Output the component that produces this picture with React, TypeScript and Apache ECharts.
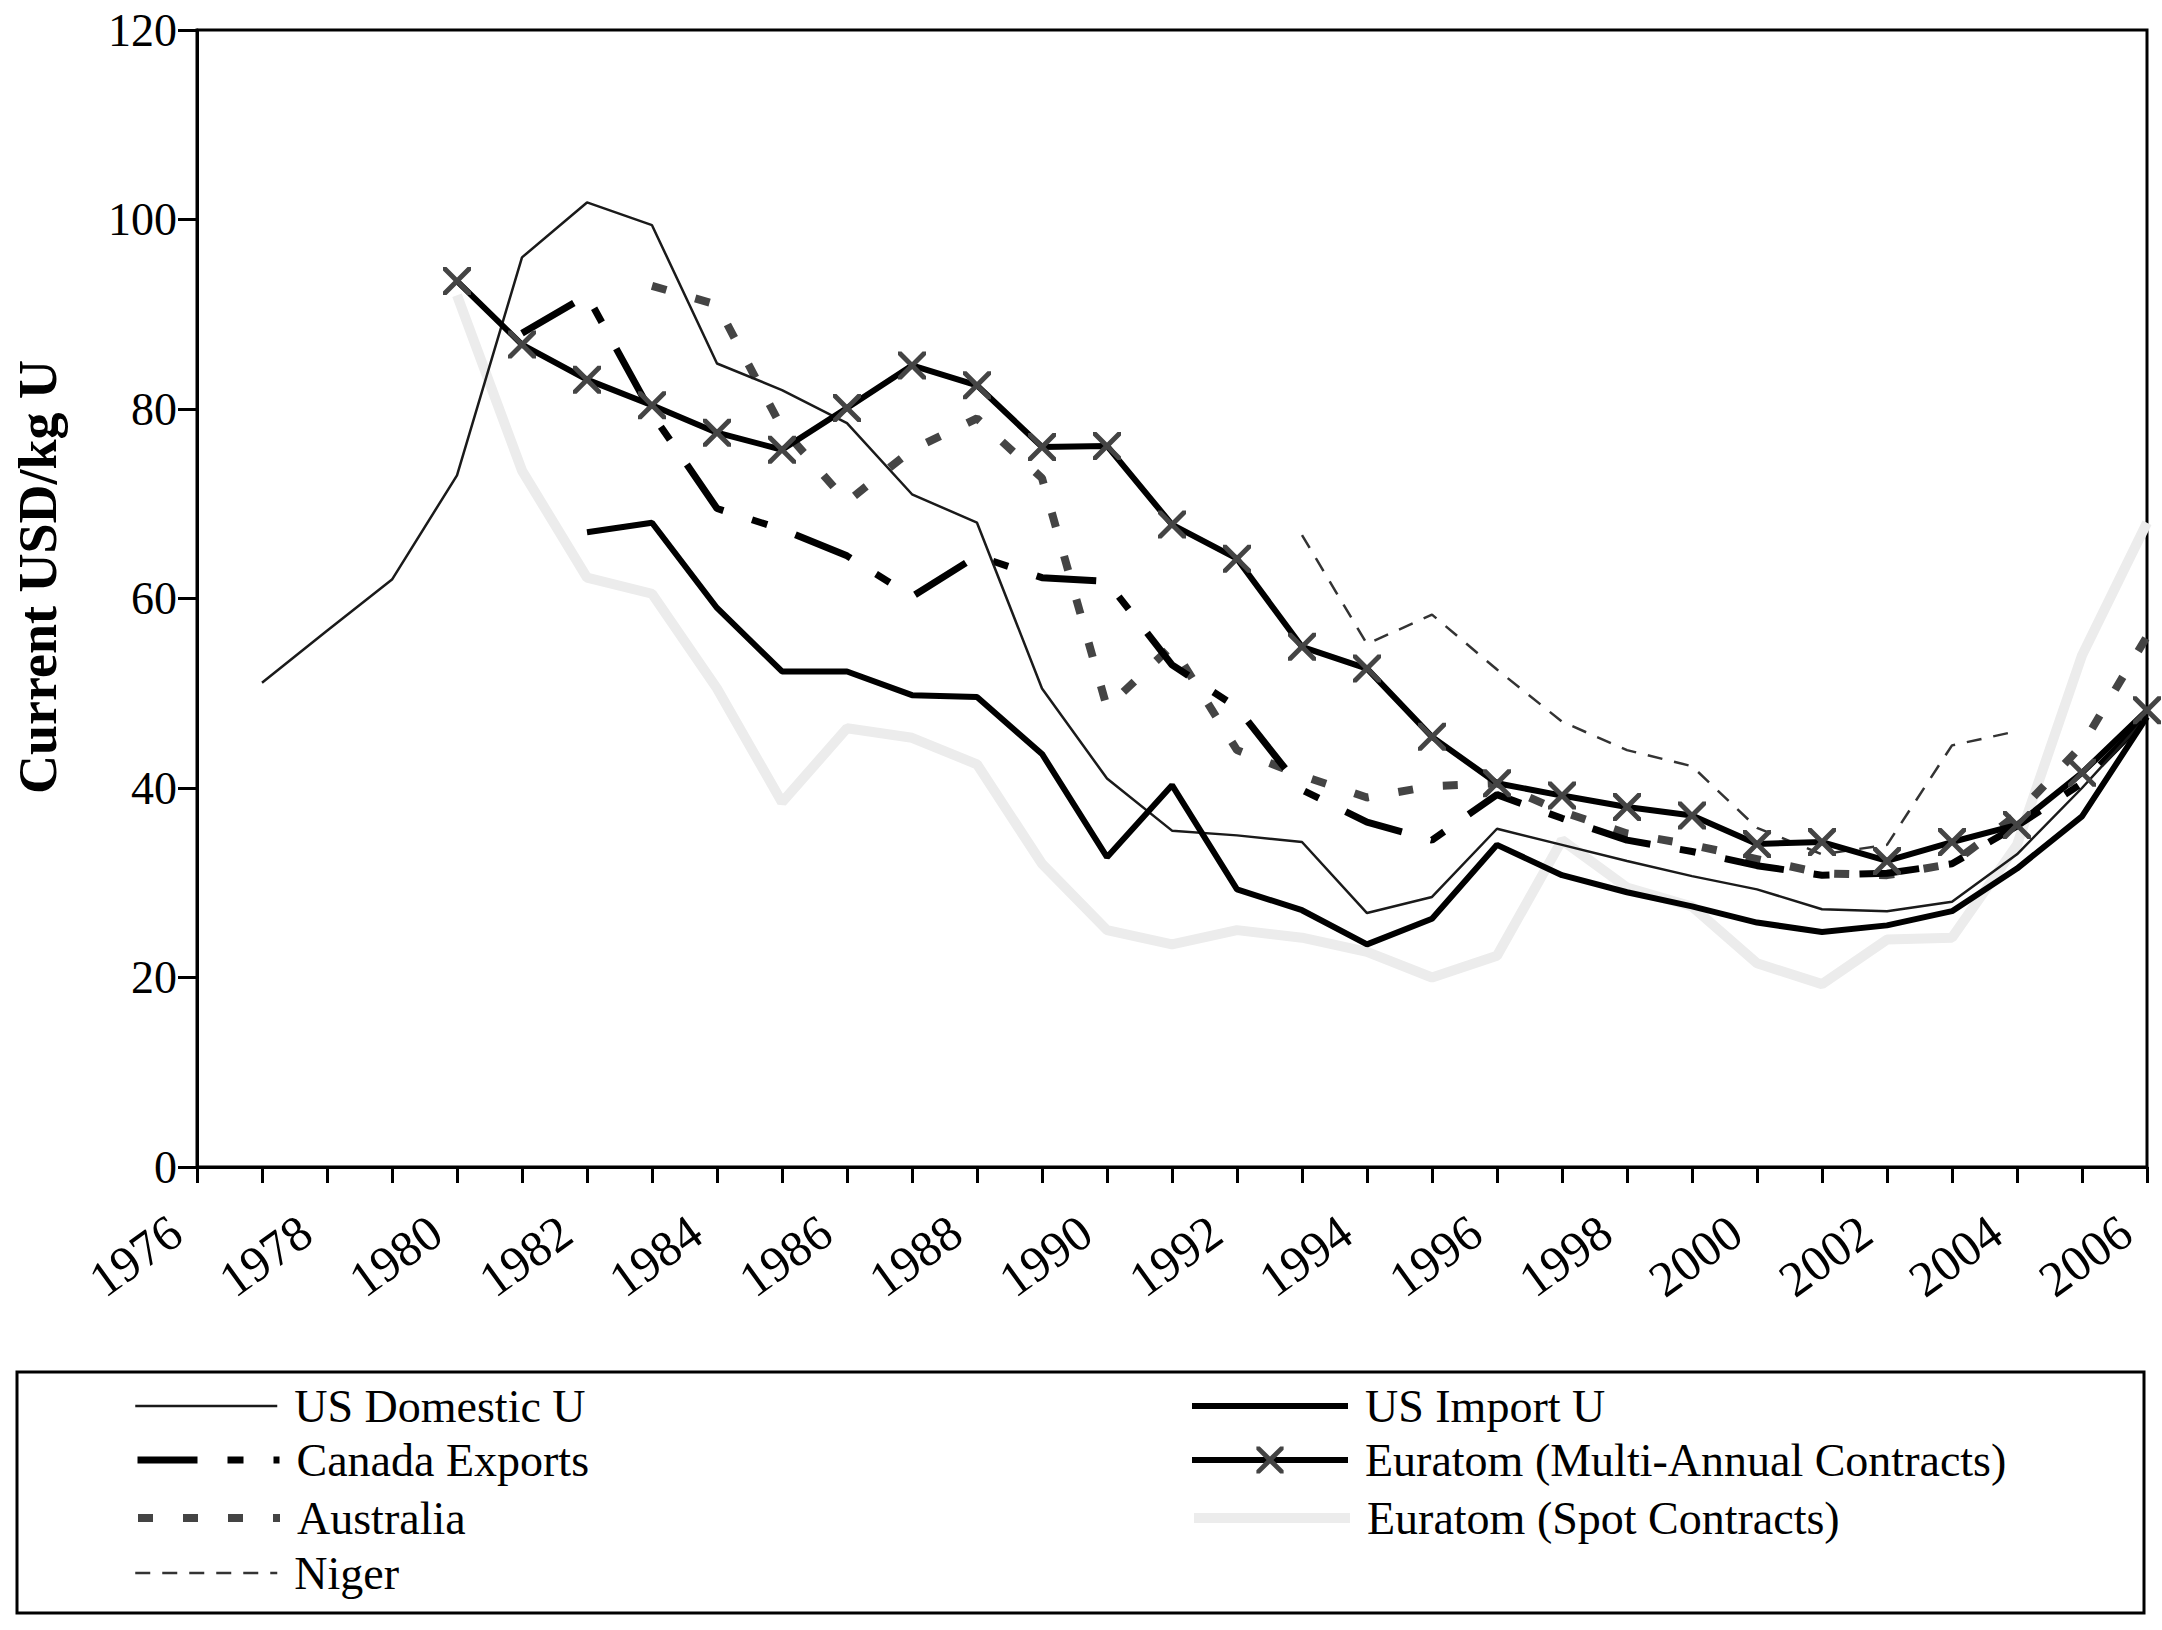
import React, { useEffect, useRef } from "react";
import * as echarts from "echarts";

const FONT = '"Liberation Serif", "DejaVu Serif", serif';

const years = [1976, 1977, 1978, 1979, 1980, 1981, 1982, 1983, 1984, 1985, 1986, 1987, 1988, 1989, 1990, 1991, 1992, 1993, 1994, 1995, 1996, 1997, 1998, 1999, 2000, 2001, 2002, 2003, 2004, 2005, 2006];

const usDomestic = [null, 51.1, 56.6, 62, 73, 96, 101.8, 99.4, 84.8, 82, 78.5, 71, 68, 50.5, 41, 35.5, 35, 34.3, 26.8, 28.5, 35.7, 34, 32.3, 30.7, 29.3, 27.2, 27, 28, 33, 40, 47.5];
const usImport = [null, null, null, null, null, null, 67, 68, 59, 52.3, 52.3, 49.8, 49.6, 43.6, 32.7, 40.3, 29.3, 27.1, 23.5, 26.2, 34, 30.8, 29, 27.5, 25.8, 24.8, 25.5, 27, 31.5, 37, 47.5];
const canadaExports = [null, null, null, null, null, 88, 92, 79.5, 69.5, 67.3, 64.5, 60.2, 64.5, 62.2, 61.8, 53, 48.5, 39.8, 36.4, 34.5, 39.3, 36.8, 34.5, 33.3, 31.8, 30.8, 31, 32, 36, 40.5, 47.5];
const australia = [null, null, null, null, null, null, null, 93, 91, 78, 70.2, 75.7, 79, 72.7, 48.5, 55, 44, 41.3, 39, 40.2, 40.5, 37.5, 35.2, 34, 32.5, 31, 30.8, 32, 37.2, 44.5, 56];
const niger = [null, null, null, null, null, null, null, null, null, null, null, null, null, null, null, null, null, 66.7, 55.2, 58.3, 52.5, 47, 44, 42.3, 35.8, 33, 34, 44.5, 46, null, null];
const euratomMulti = [null, null, null, null, 93.5, 86.8, 83.1, 80.4, 77.5, 75.7, 80.1, 84.6, 82.5, 76, 76.1, 67.8, 64.2, 54.9, 52.6, 45.4, 40.5, 39.2, 38, 37.1, 34.1, 34.3, 32.3, 34.3, 36.1, 41.6, 48.2];
const euratomSpot = [null, null, null, null, 92, 73.5, 62.2, 60.5, 50.5, 38.5, 46.3, 45.3, 42.5, 32, 25, 23.5, 25, 24.2, 22.7, 20, 22.3, 34.5, 29.5, 27.5, 21.5, 19.3, 24, 24.2, 34, 54, 68];

const yTicks = { min: 0, max: 120, interval: 20 };
const xTicks = { min: 1976, max: 2006, interval: 1 };

const seriesNames = {
  usDomestic: "US Domestic U",
  usImport: "US Import U",
  canada: "Canada Exports",
  euratomMulti: "Euratom (Multi-Annual Contracts)",
  australia: "Australia",
  euratomSpot: "Euratom (Spot Contracts)",
  niger: "Niger",
};

const X_PATH =
  "path://M0 0L2.5 0L10 7.5L17.5 0L20 0L20 2.5L12.5 10L20 17.5L20 20L17.5 20L10 12.5L2.5 20L0 20L0 17.5L7.5 10L0 2.5Z";

const styles = {
  usDomestic: { color: "#1a1a1a", width: 2.5, type: "solid" as any },
  usImport: { color: "#000", width: 6, type: "solid" as any },
  canada: { color: "#000", width: 7, type: [60, 30, 16, 30] as any },
  australia: { color: "#444", width: 8, type: [15, 30] as any },
  niger: { color: "#333", width: 2.5, type: [15, 12] as any },
  euratomMulti: { color: "#000", width: 6, type: "solid" as any },
  euratomSpot: { color: "#ececec", width: 10, type: "solid" as any },
};

function pairs(vals: (number | null)[]) {
  const out: [number, number][] = [];
  years.forEach((y, i) => {
    const v = vals[i];
    if (v !== null && v !== undefined) out.push([y, v]);
  });
  return out;
}

export default function App() {
  const ref = useRef<HTMLDivElement>(null);

  useEffect(() => {
    document.body.style.margin = "0";
    if (!ref.current) return;
    const chart = echarts.init(ref.current, undefined, { renderer: "svg" });

    const rowCenters = [1406, 1460, 1518, 1573];
    const textStyle = { fontFamily: FONT, fontSize: 46, color: "#000", padding: [0, 0, 0, 12] };
    const mkLegend = (name: string, left: number, row: number, width: number, ls: any, withSymbol = false) => ({
      data: [name],
      left,
      top: rowCenters[row] - 23,
      padding: 0,
      itemWidth: width,
      itemHeight: withSymbol ? 34 : 24,
      selectedMode: false,
      textStyle,
      lineStyle: { color: ls.color, width: ls.width, type: ls.type },
      itemStyle: withSymbol ? { color: "#444" } : { opacity: 0 },
    });

    const option: any = {
      animation: false,
      backgroundColor: "#fff",
      grid: {
        left: 197,
        top: 30,
        width: 1950,
        height: 1137,
        show: true,
        borderColor: "#000",
        borderWidth: 3,
        backgroundColor: "transparent",
      },
      xAxis: {
        type: "value",
        min: xTicks.min,
        max: xTicks.max,
        interval: xTicks.interval,
        axisLine: { show: true, onZero: false, lineStyle: { color: "#000", width: 3 } },
        axisTick: { show: true, length: 16, lineStyle: { color: "#000", width: 3 } },
        splitLine: { show: false },
        axisLabel: {
          formatter: (v: number) => (v % 2 === 0 ? String(v) : ""),
          rotate: 36,
          margin: 44,
          padding: [0, 26, 0, 0],
          fontFamily: FONT,
          fontSize: 50,
          color: "#000",
        },
      },
      yAxis: {
        type: "value",
        min: yTicks.min,
        max: yTicks.max,
        interval: yTicks.interval,
        axisLine: { show: true, lineStyle: { color: "#000", width: 3 } },
        axisTick: { show: true, length: 19, lineStyle: { color: "#000", width: 3 } },
        splitLine: { show: false },
        axisLabel: { fontFamily: FONT, fontSize: 46, color: "#000", margin: 20 },
      },
      legend: [
        mkLegend(seriesNames.usDomestic, 134, 0, 142, styles.usDomestic),
        mkLegend(seriesNames.canada, 134, 1, 142, styles.canada),
        mkLegend(seriesNames.australia, 134, 2, 142, styles.australia),
        mkLegend(seriesNames.niger, 134, 3, 142, styles.niger),
        mkLegend(seriesNames.usImport, 1189, 0, 156, styles.usImport),
        mkLegend(seriesNames.euratomMulti, 1189, 1, 156, styles.euratomMulti, true),
        mkLegend(seriesNames.euratomSpot, 1189, 2, 156, styles.euratomSpot),
      ],
      graphic: [
        {
          type: "rect",
          shape: { x: 17, y: 1372, width: 2127, height: 241 },
          style: { fill: "none", stroke: "#000", lineWidth: 3 },
          silent: true,
        },
        {
          type: "text",
          x: 38,
          y: 577,
          rotation: Math.PI / 2,
          style: {
            text: "Current USD/kg U",
            font: `bold 54px ${FONT}`,
            fill: "#000",
            textAlign: "center",
            textVerticalAlign: "middle",
          },
          silent: true,
        },
      ],
      series: [
        {
          name: seriesNames.euratomSpot,
          type: "line",
          data: pairs(euratomSpot),
          symbol: "none",
          lineStyle: styles.euratomSpot,
          itemStyle: { color: styles.euratomSpot.color },
          z: 1,
        },
        {
          name: seriesNames.niger,
          type: "line",
          data: pairs(niger),
          symbol: "none",
          lineStyle: styles.niger,
          itemStyle: { color: styles.niger.color },
          z: 2,
        },
        {
          name: seriesNames.australia,
          type: "line",
          data: pairs(australia),
          symbol: "none",
          lineStyle: styles.australia,
          itemStyle: { color: styles.australia.color },
          z: 3,
        },
        {
          name: seriesNames.canada,
          type: "line",
          data: pairs(canadaExports),
          symbol: "none",
          lineStyle: styles.canada,
          itemStyle: { color: styles.canada.color },
          z: 4,
        },
        {
          name: seriesNames.usDomestic,
          type: "line",
          data: pairs(usDomestic),
          symbol: "none",
          lineStyle: styles.usDomestic,
          itemStyle: { color: styles.usDomestic.color },
          z: 5,
        },
        {
          name: seriesNames.usImport,
          type: "line",
          data: pairs(usImport),
          symbol: "none",
          lineStyle: styles.usImport,
          itemStyle: { color: styles.usImport.color },
          z: 6,
        },
        {
          name: seriesNames.euratomMulti,
          type: "line",
          data: pairs(euratomMulti),
          symbol: X_PATH,
          symbolSize: 28,
          showSymbol: true,
          lineStyle: styles.euratomMulti,
          itemStyle: { color: "#444" },
          z: 7,
        },
      ],
    };

    chart.setOption(option);
    return () => chart.dispose();
  }, []);

  return <div ref={ref} style={{ width: 2162, height: 1630, background: "#fff" }} />;
}
